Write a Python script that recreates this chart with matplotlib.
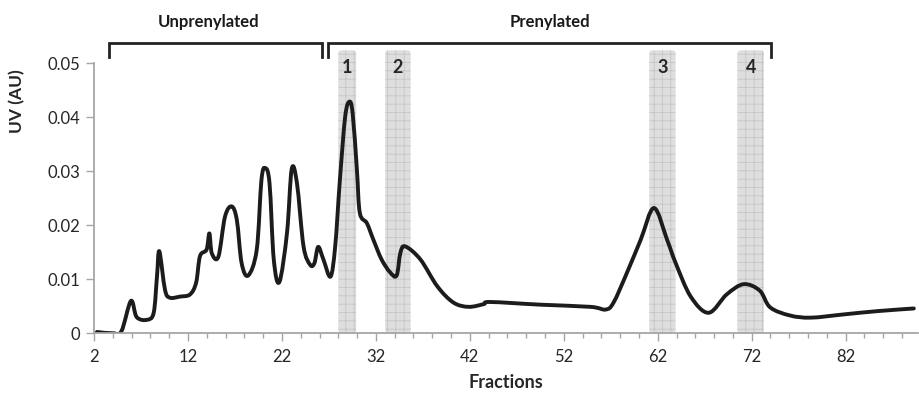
import numpy as np
import matplotlib
matplotlib.use("Agg")
import matplotlib.pyplot as plt
from matplotlib.path import Path
from matplotlib.patches import PathPatch, FancyBboxPatch

plt.rcParams['font.family'] = ['Lato', 'DejaVu Sans']
plt.rcParams['hatch.linewidth'] = 0.5

# UV trace (fraction number, absorbance)
fractions = [2.31, 4.02, 4.92, 5.93, 6.54, 7.64, 8.35, 8.7, 8.95, 9.55, 10.06,
             11.16, 12.22, 12.87, 13.28, 13.98, 14.28, 14.54, 15.24, 15.94,
             16.65, 17.2, 17.71, 18.41, 19.32, 19.82, 20.22, 20.68, 21.13,
             21.73, 22.54, 23.04, 23.6, 24.3, 25.0, 25.46, 25.86, 26.41,
             27.17, 27.67, 28.17, 28.73, 29.18, 29.53, 29.98, 30.29, 31.04,
             31.74, 32.6, 33.51, 34.21, 34.61, 35.12, 36.73, 38.54, 40.25,
             41.86, 43.47, 44.17, 49.51, 54.84, 56.45, 57.3, 58.72, 60.18,
             61.6, 63.0, 63.91, 65.51, 67.42, 69.34, 71.15, 72.86, 73.97,
             76.08, 78.3, 81.81, 85.33, 89.26]
uv = [0.00025, 0.0, 0.0004, 0.006, 0.003, 0.0025, 0.0038, 0.0105, 0.0152,
      0.0081, 0.0066, 0.0068, 0.0072, 0.0094, 0.0143, 0.0155, 0.0185, 0.0148,
      0.0142, 0.0216, 0.0235, 0.021, 0.013, 0.0107, 0.0155, 0.0284, 0.0306,
      0.0278, 0.0137, 0.0095, 0.0186, 0.0304, 0.0278, 0.0161, 0.0127, 0.013,
      0.016, 0.0137, 0.0105, 0.0161, 0.0284, 0.0401, 0.0429, 0.0407, 0.0303,
      0.0223, 0.0204, 0.0173, 0.0137, 0.0113, 0.0107, 0.0149, 0.0161, 0.0137,
      0.0087, 0.0057, 0.0049, 0.0054, 0.0058, 0.0053, 0.0049, 0.0044, 0.0057,
      0.0112, 0.0173, 0.0232, 0.0173, 0.013, 0.0068, 0.0038, 0.0072, 0.0091,
      0.0079, 0.0048, 0.0033, 0.0029, 0.0035, 0.0041, 0.0046]

# collected peak windows
band_labels = ['1', '2', '3', '4']
band_start = [28.0, 33.0, 61.1, 70.5]
band_end = [29.9, 35.7, 63.9, 73.3]

# bracket groups
group_labels = ['Unprenylated', 'Prenylated']
group_start = [3.6, 26.9]
group_end = [26.3, 74.1]

x_ticks = [2, 12, 22, 32, 42, 52, 62, 72, 82]
y_ticks = [0, 0.01, 0.02, 0.03, 0.04, 0.05]
y_tick_labels = ['0', '0.01', '0.02', '0.03', '0.04', '0.05']


def smooth_path(xs, ys):
    # Catmull-Rom segments written as cubic Bezier curves
    pts = np.column_stack([xs, ys])
    ext = np.vstack([pts[0], pts, pts[-1]])
    verts = [pts[0]]
    codes = [Path.MOVETO]
    for i in range(1, len(ext) - 2):
        p0, p1, p2, p3 = ext[i - 1], ext[i], ext[i + 1], ext[i + 2]
        verts += [p1 + (p2 - p0) / 6, p2 - (p3 - p1) / 6, p2]
        codes += [Path.CURVE4] * 3
    return Path(verts, codes)


fig = plt.figure(figsize=(9.2, 3.95), dpi=100)
ax = fig.add_axes([0.1022, 0.1562, 0.8956, 0.6835])
ax.set_xlim(2, 89.7)
ax.set_ylim(0, 0.05)

grey = '#a6a6a6'
for lab, a, b in zip(band_labels, band_start, band_end):
    box = FancyBboxPatch((a, 0), b - a, 0.0524,
                         boxstyle='round,pad=0,rounding_size=0.35',
                         mutation_aspect=0.00174,
                         facecolor='#dedede', edgecolor='#c2c2c2', linewidth=0,
                         hatch='++', clip_on=False, zorder=1)
    ax.add_patch(box)
    ax.text((a + b) / 2, 0.0492, lab, ha='center', va='center',
            fontsize=13, fontweight='bold', color='#262626', zorder=3)

ax.add_patch(PathPatch(smooth_path(fractions, uv), fill=False, lw=2.8,
                       edgecolor='#1c1c1c', capstyle='round',
                       joinstyle='round', zorder=2))

for lab, a, b in zip(group_labels, group_start, group_end):
    ax.plot([a, a, b, b], [0.0512, 0.0537, 0.0537, 0.0512], color='#222222',
            lw=2, clip_on=False, solid_joinstyle='miter', zorder=4)
    ax.text((a + b) / 2 - 0.8 * (lab == 'Unprenylated'), 0.0576, lab,
            ha='center', va='center', fontsize=12, fontweight='bold',
            color='#1a1a1a')

for side in ['top', 'right']:
    ax.spines[side].set_visible(False)
for side in ['left', 'bottom']:
    ax.spines[side].set_color(grey)
    ax.spines[side].set_linewidth(1.3)

ax.set_xticks(x_ticks)
ax.set_xticks(np.arange(2, 90, 2), minor=True)
ax.set_yticks(y_ticks)
ax.set_yticklabels(y_tick_labels)
ax.tick_params(axis='both', which='major', color=grey, width=1, length=6,
               labelsize=12, labelcolor='#262626')
ax.tick_params(axis='x', which='minor', color=grey, width=1, length=3.5)
ax.tick_params(axis='x', pad=5)
ax.tick_params(axis='y', pad=4)

ax.set_xlabel('Fractions', fontsize=13, fontweight='bold', color='#262626',
              labelpad=7)
ax.set_ylabel('UV (AU)', fontsize=12.5, fontweight='bold', color='#262626')
ax.yaxis.set_label_coords(-0.0835, 0.86)

fig.savefig('out.png', dpi=100)
